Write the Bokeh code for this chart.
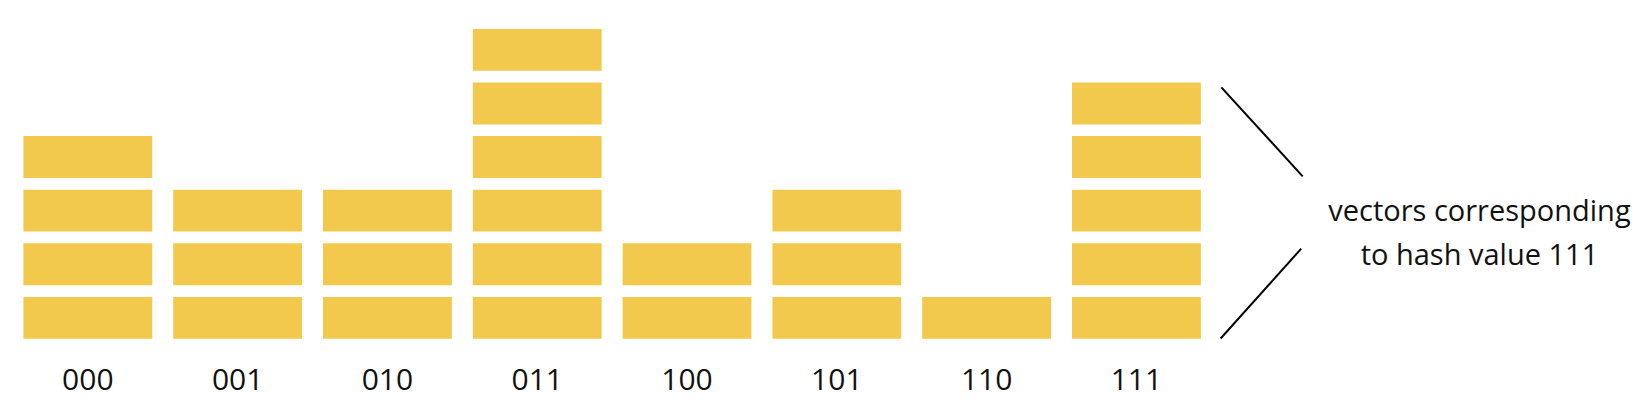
from bokeh.plotting import figure
from bokeh.models import ColumnDataSource, Range1d
from bokeh.core.properties import value
from bokeh.embed import file_html
from bokeh.resources import INLINE

# ---- data ----
hash_values = ["000", "001", "010", "011", "100", "101", "110", "111"]
vector_counts = [4, 3, 3, 6, 2, 3, 1, 5]
note_lines = ["vectors corresponding", "to hash value 111"]
highlight = "111"

BAR_COLOR = "#F2C94C"
BAR_W = 0.86      # fraction of category pitch
BLOCK_H = 0.782   # fraction of block pitch

# build blocks
xs, ys = [], []
for i, (h, n) in enumerate(zip(hash_values, vector_counts)):
    for k in range(n):
        xs.append(i)
        ys.append(k + BLOCK_H / 2)
blocks = ColumnDataSource(dict(x=xs, y=ys))

p = figure(width=1634, height=400, output_backend="svg", toolbar_location=None,
           x_range=Range1d(-0.583, 10.325), y_range=Range1d(-1.151, 6.312),
           min_border=0, outline_line_color=None)
p.axis.visible = False
p.grid.visible = False
p.background_fill_color = "white"
p.border_fill_color = "white"

p.rect(x="x", y="y", width=BAR_W, height=BLOCK_H, source=blocks,
       fill_color=BAR_COLOR, line_color=None)

# category labels
lab = ColumnDataSource(dict(x=list(range(len(hash_values))),
                            y=[-0.765] * len(hash_values), t=hash_values))
p.text(x="x", y="y", text="t", source=lab, text_align="center",
       text_baseline="middle", text_font=value("Open Sans"),
       text_font_size="30px", text_color="#111111")

# bracket lines pointing at highlighted stack
hi = hash_values.index(highlight)
top = vector_counts[hi] - 1 + BLOCK_H
x0 = hi + 0.567
x1 = hi + 1.11
p.line([x0, x1], [top - 0.09, top - 1.75], line_color="black", line_width=2)
p.line([x1 - 0.01, x0 - 0.005], [top - 3.1, 0.006], line_color="black", line_width=2)

# annotation text
note = ColumnDataSource(dict(x=[hi + 2.29, hi + 2.29], y=[2.415, 1.595], t=note_lines))
p.text(x="x", y="y", text="t", source=note, text_align="center",
       text_baseline="middle", text_font=value("Open Sans"),
       text_font_size="29px", text_color="#111111")

open("out.html", "w").write(file_html(p, INLINE))
